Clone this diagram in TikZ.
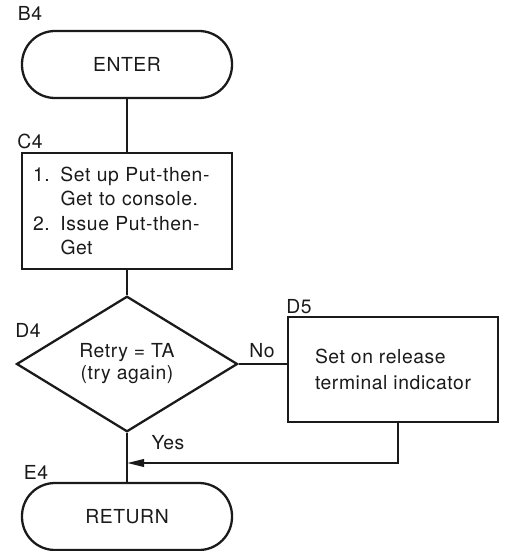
\documentclass[tikz,border=0pt]{standalone}
\usepackage{fontspec}
\setmainfont{TeX Gyre Heros}[LetterSpace=3.0]
\usetikzlibrary{arrows.meta,shapes.geometric}
\definecolor{Ink}{HTML}{1A1A1A}

\begin{document}
\begin{tikzpicture}[font=\fontsize{11}{14}\selectfont, term/.style={draw=Ink,line width=1.3pt,rounded corners=0.66cm,minimum width=4.2cm,minimum height=1.34cm,text=Ink}, proc/.style={draw=Ink,line width=1.3pt,minimum width=4.2cm,align=left,text=Ink}, decide/.style={draw=Ink,line width=1.3pt,diamond,minimum width=4.42cm,minimum height=2.56cm,inner sep=0pt,align=center,text=Ink,font=\fontsize{11}{12.5}\selectfont}, tag/.style={text=Ink,inner sep=1pt}, link/.style={draw=Ink,line width=1.3pt}, flow/.style={link,-{Triangle[length=3.4mm,width=1.5mm]}}]
\useasboundingbox (0,0) rectangle (10.14,-11.02);
\node[tag] (tB4) at (0.6,-0.26) {B4};\node[term] (enter) at (2.54,-1.29) {ENTER};
\node[tag] (tC4) at (0.6,-2.82) {C4};
\node[proc,minimum height=2.32cm,text width=3.76cm,inner xsep=0.22cm] (setup) at (2.54,-4.22) {\makebox[5.5mm][l]{1.}Set up Put-then-\\\hspace*{5.5mm}Get to console.\\\makebox[5.5mm][l]{2.}Issue Put-then-\\\hspace*{5.5mm}Get};
\node[tag] (tD4) at (0.56,-6.6) {D4};\node[decide] (retry) at (2.54,-7.28) {Retry = TA\\(try again)};
\node[tag] (tD5) at (5.98,-6.14) {D5};\node[proc,minimum height=2.1cm,font=\fontsize{11}{14.5}\selectfont] (release) at (7.86,-7.39) {Set on release\\terminal indicator};
\node[tag] (tE4) at (0.72,-9.44) {E4};\node[term] (return) at (2.54,-10.33) {RETURN};
\node[tag] (no) at (5.24,-7.02) {No};\node[tag] (yes) at (3.36,-8.86) {Yes};
\coordinate (join) at (2.54,-9.26);
\draw[link] (enter.south)--(setup.north);\draw[link] (setup.south)--(retry.north);\draw[link] (retry.east)--(retry.east -| release.west);\draw[link] (retry.south)--(return.north);
\draw[flow] ([xshift=1mm]release.south) |- (join);
\end{tikzpicture}
\end{document}
